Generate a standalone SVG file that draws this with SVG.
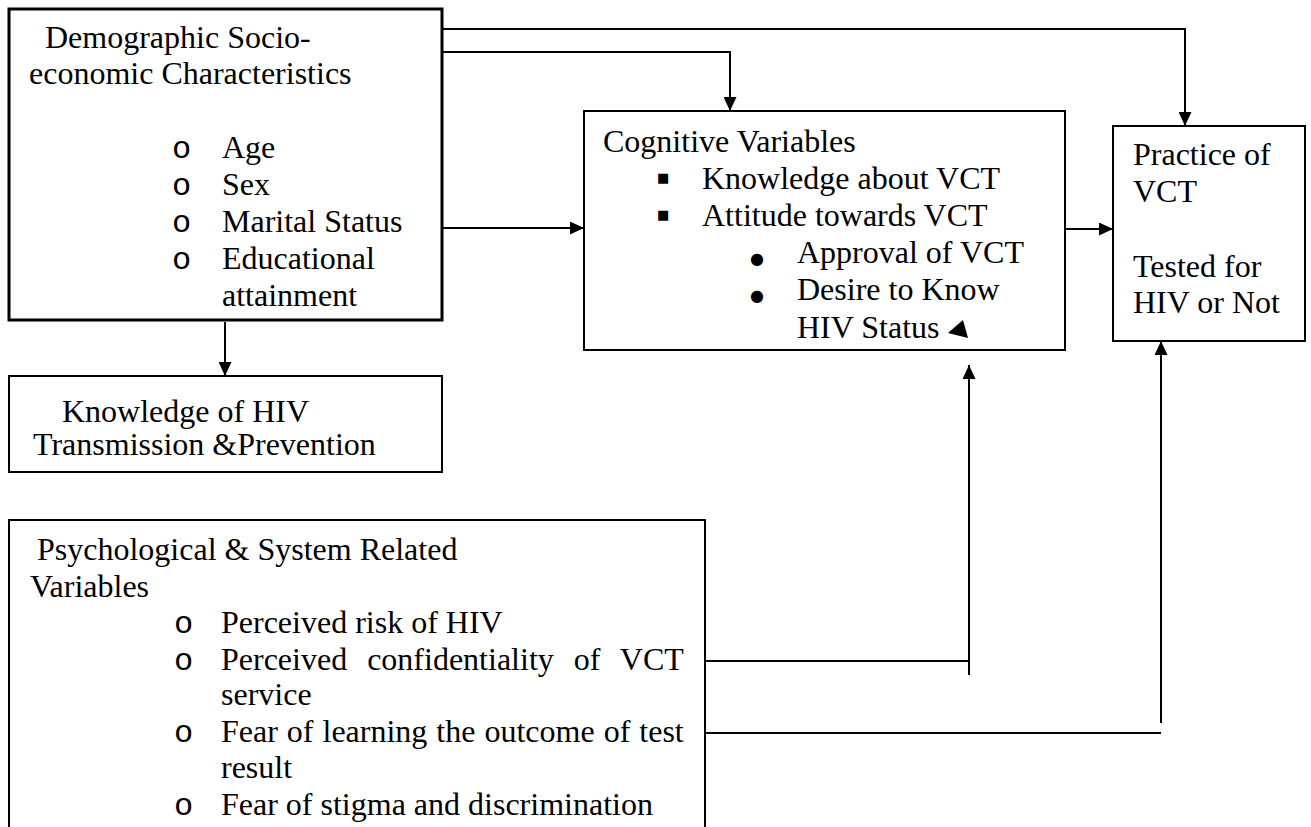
<svg xmlns="http://www.w3.org/2000/svg" width="1311" height="827" viewBox="0 0 1311 827">
<style>
.t{font-size:32px;fill:#000}
.box{fill:#fff;stroke:#000;stroke-width:2}
.thick{stroke-width:3}
.c{fill:none;stroke:#000;stroke-width:2}
</style>
<defs>
<marker id="ah" markerUnits="userSpaceOnUse" markerWidth="14" markerHeight="13" refX="14" refY="6.5" orient="auto">
<path d="M0,0 L14,6.5 L0,13 z" fill="#000"/>
</marker>
</defs>
<rect width="1311" height="827" fill="#fff"/>
<g id="demographic">
<rect class="box thick" x="9" y="9" width="433" height="311"/>
<g class="t" font-family="'Liberation Serif', 'Times New Roman', serif">
<text x="45" y="48">Demographic Socio-</text>
<text x="29" y="84">economic Characteristics</text>
<text x="222" y="158">Age</text>
<text x="222" y="195">Sex</text>
<text x="222" y="232">Marital Status</text>
<text x="222" y="269">Educational</text>
<text x="222" y="306">attainment</text>
</g>
<g class="t" font-family="'Liberation Mono', 'Courier New', monospace">
<text x="172" y="158">o</text>
<text x="172" y="195">o</text>
<text x="172" y="232">o</text>
<text x="172" y="269">o</text>
</g>
</g>
<g id="knowledge">
<rect class="box" x="9" y="376" width="433" height="96"/>
<g class="t" font-family="'Liberation Serif', 'Times New Roman', serif">
<text x="62" y="422">Knowledge of HIV</text>
<text x="33" y="455">Transmission &amp;Prevention</text>
</g>
</g>
<g id="cognitive">
<rect class="box" x="584" y="111" width="481" height="239"/>
<g class="t" font-family="'Liberation Serif', 'Times New Roman', serif">
<text x="603" y="152">Cognitive Variables</text>
<text x="702" y="189">Knowledge about VCT</text>
<text x="702" y="226">Attitude towards VCT</text>
<text x="797" y="263">Approval of VCT</text>
<text x="797" y="300">Desire to Know</text>
<text x="797" y="338">HIV Status</text>
</g>
<g font-family="'DejaVu Sans', sans-serif" fill="#000">
<text x="657" y="182" font-size="13">■</text>
<text x="657" y="219" font-size="13">■</text>
<text x="750" y="264" font-size="16">●</text>
<text x="750" y="301" font-size="16">●</text>
</g>
<polygon points="948,333 963,320 968,338" fill="#000"/>
</g>
<g id="practice">
<rect class="box" x="1113" y="126" width="192" height="215"/>
<g class="t" font-family="'Liberation Serif', 'Times New Roman', serif">
<text x="1133" y="165">Practice of</text>
<text x="1133" y="202">VCT</text>
<text x="1133" y="277">Tested for</text>
<text x="1133" y="313">HIV or Not</text>
</g>
</g>
<g id="psychological">
<rect class="box" x="9" y="520" width="696" height="330"/>
<g class="t" font-family="'Liberation Serif', 'Times New Roman', serif">
<text x="37" y="560">Psychological &amp; System Related</text>
<text x="30" y="597">Variables</text>
<text x="221" y="633">Perceived risk of HIV</text>
<text x="221" y="670" word-spacing="12">Perceived confidentiality of VCT</text>
<text x="221" y="705">service</text>
<text x="221" y="742" word-spacing="1">Fear of learning the outcome of test</text>
<text x="221" y="778">result</text>
<text x="221" y="815">Fear of stigma and discrimination</text>
</g>
<g class="t" font-family="'Liberation Mono', 'Courier New', monospace">
<text x="174" y="633">o</text>
<text x="174" y="670">o</text>
<text x="174" y="742">o</text>
<text x="174" y="815">o</text>
</g>
</g>
<g id="connectors">
<path class="c" d="M442,29 H1185 V126" marker-end="url(#ah)"/>
<path class="c" d="M442,52 H730 V111" marker-end="url(#ah)"/>
<path class="c" stroke-width="3" d="M442,228 H584" marker-end="url(#ah)"/>
<path class="c" d="M1065,229 H1113" marker-end="url(#ah)"/>
<path class="c" stroke-width="3" d="M225,322 V376" marker-end="url(#ah)"/>
<path class="c" d="M705,661 H969"/>
<path class="c" d="M969,675 V365" marker-end="url(#ah)"/>
<path class="c" d="M705,733 H1161"/>
<path class="c" d="M1161,723 V341" marker-end="url(#ah)"/>
</g>
</svg>
